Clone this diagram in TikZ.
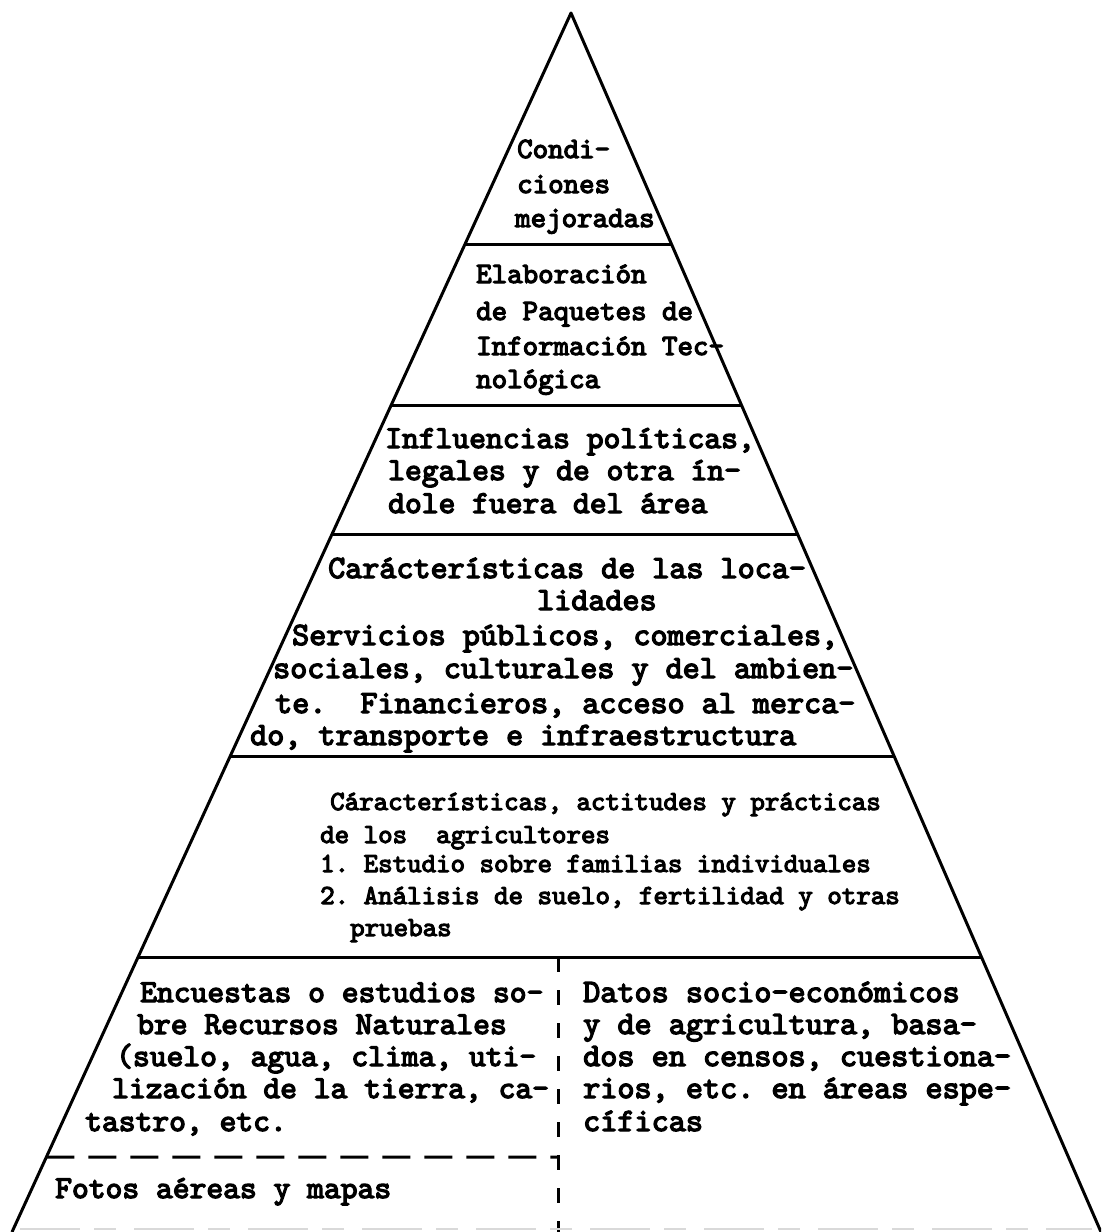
\documentclass[tikz,border=0pt]{standalone}
\usepackage{fontspec}
\newfontfamily\typer{lmmono10-regular.otf}[FakeBold=4]
\usetikzlibrary{calc}

\tikzset{
  side/.style={line width=3pt, line join=round},
  tier/.style={line width=3pt},
  vcut/.style={line width=3pt, dash pattern=on 15pt off 18pt},
  hcut/.style={line width=3pt, dash pattern=on 28pt off 14pt},
  lbl/.style={anchor=base west, inner sep=0pt,
    font=\typer\fontsize{#1}{#1}\selectfont},
  lbl/.default=30,
}
\frenchspacing

\begin{document}
\begin{tikzpicture}[x=1pt,y=-1pt]
\useasboundingbox (0,0) rectangle (1101,1232);
\clip (0,0) rectangle (1101,1232);

% outline of the pyramid
\coordinate (apex) at (571,13);
\coordinate (bl) at (12,1232);
\coordinate (br) at (1101,1232);
\draw[side] (bl) -- (apex) -- (br);

% tiers
\foreach \t [count=\i] in {0.1903,0.3216,0.4274,0.6103,0.7744}{
  \coordinate (l\i) at ($(apex)!\t!(bl)$);
  \coordinate (r\i) at ($(apex)!\t!(br)$);
  \draw[tier] (l\i) -- (r\i);
}

% split of the base tier
\coordinate (vtop) at (558,957);
\coordinate (vbot) at (558,1232);
\coordinate (hmid) at (558,1157);
\coordinate (hleft) at ($(apex)!0.9385!(bl)$);
\draw[vcut] (vtop) -- (vbot);
\draw[hcut] (hleft) -- (hmid);
\coordinate (b0) at (20,1229);
\coordinate (b1) at (1092,1229);
\draw[gray!30, line width=1.5pt, dash pattern=on 60pt off 14pt on 22pt off 18pt] (b0) -- (b1);

% labels
\foreach \x/\y/\s [count=\i] in {517/158/Condi-, 517/193/ciones, 515/227/mejoradas}
  \node[lbl=29.5] (cond\i) at (\x,\y) {\s};

\foreach \x/\y/\s [count=\i] in {476/283/Elaboración, 476/320/de Paquetes de,
    476/355/Información Tec-, 476/388/nológica}
  \node[lbl=29.5] (paq\i) at (\x,\y) {\s};

\foreach \x/\y/\s [count=\i] in {385/448/{Influencias políticas,},
    388/480/legales y de otra ín-, 388/513/dole fuera del área}
  \node[lbl=32] (infl\i) at (\x,\y) {\s};

\foreach \x/\y/\s [count=\i] in {328/578/Carácterísticas de las loca-,
    537/610/lidades,
    292/645/{Servicios públicos, comerciales,},
    273/678/{sociales, culturales y del ambien-},
    275/713/{te.\ \ Financieros, acceso al merca-},
    250/745/{do, transporte e infraestructura}}
  \node[lbl=32.5] (loc\i) at (\x,\y) {\s};

\foreach \x/\y/\s [count=\i] in {330/810/{Cáracterísticas, actitudes y prácticas},
    320/843/de los\ \ agricultores,
    320/872/1. Estudio sobre familias individuales,
    320/904/{2. Análisis de suelo, fertilidad y otras},
    350/936/pruebas}
  \node[lbl=27.6] (agr\i) at (\x,\y) {\s};

\foreach \x/\y/\s [count=\i] in {140/1002/Encuestas o estudios so-,
    137/1034/bre Recursos Naturales,
    116/1066/{(suelo, agua, clima, uti-},
    112/1098/{lización de la tierra, ca-},
    85/1131/{tastro, etc.}}
  \node[lbl=32] (rec\i) at (\x,\y) {\s};

\foreach \x/\y/\s [count=\i] in {583/1002/Datos socio-económicos,
    583/1034/{y de agricultura, basa-},
    583/1066/{dos en censos, cuestiona-},
    583/1098/{rios, etc. en áreas espe-},
    583/1131/cíficas}
  \node[lbl=32.6] (dat\i) at (\x,\y) {\s};

\node[lbl=32] (fotos) at (55,1198) {Fotos aéreas y mapas};
\end{tikzpicture}
\end{document}
